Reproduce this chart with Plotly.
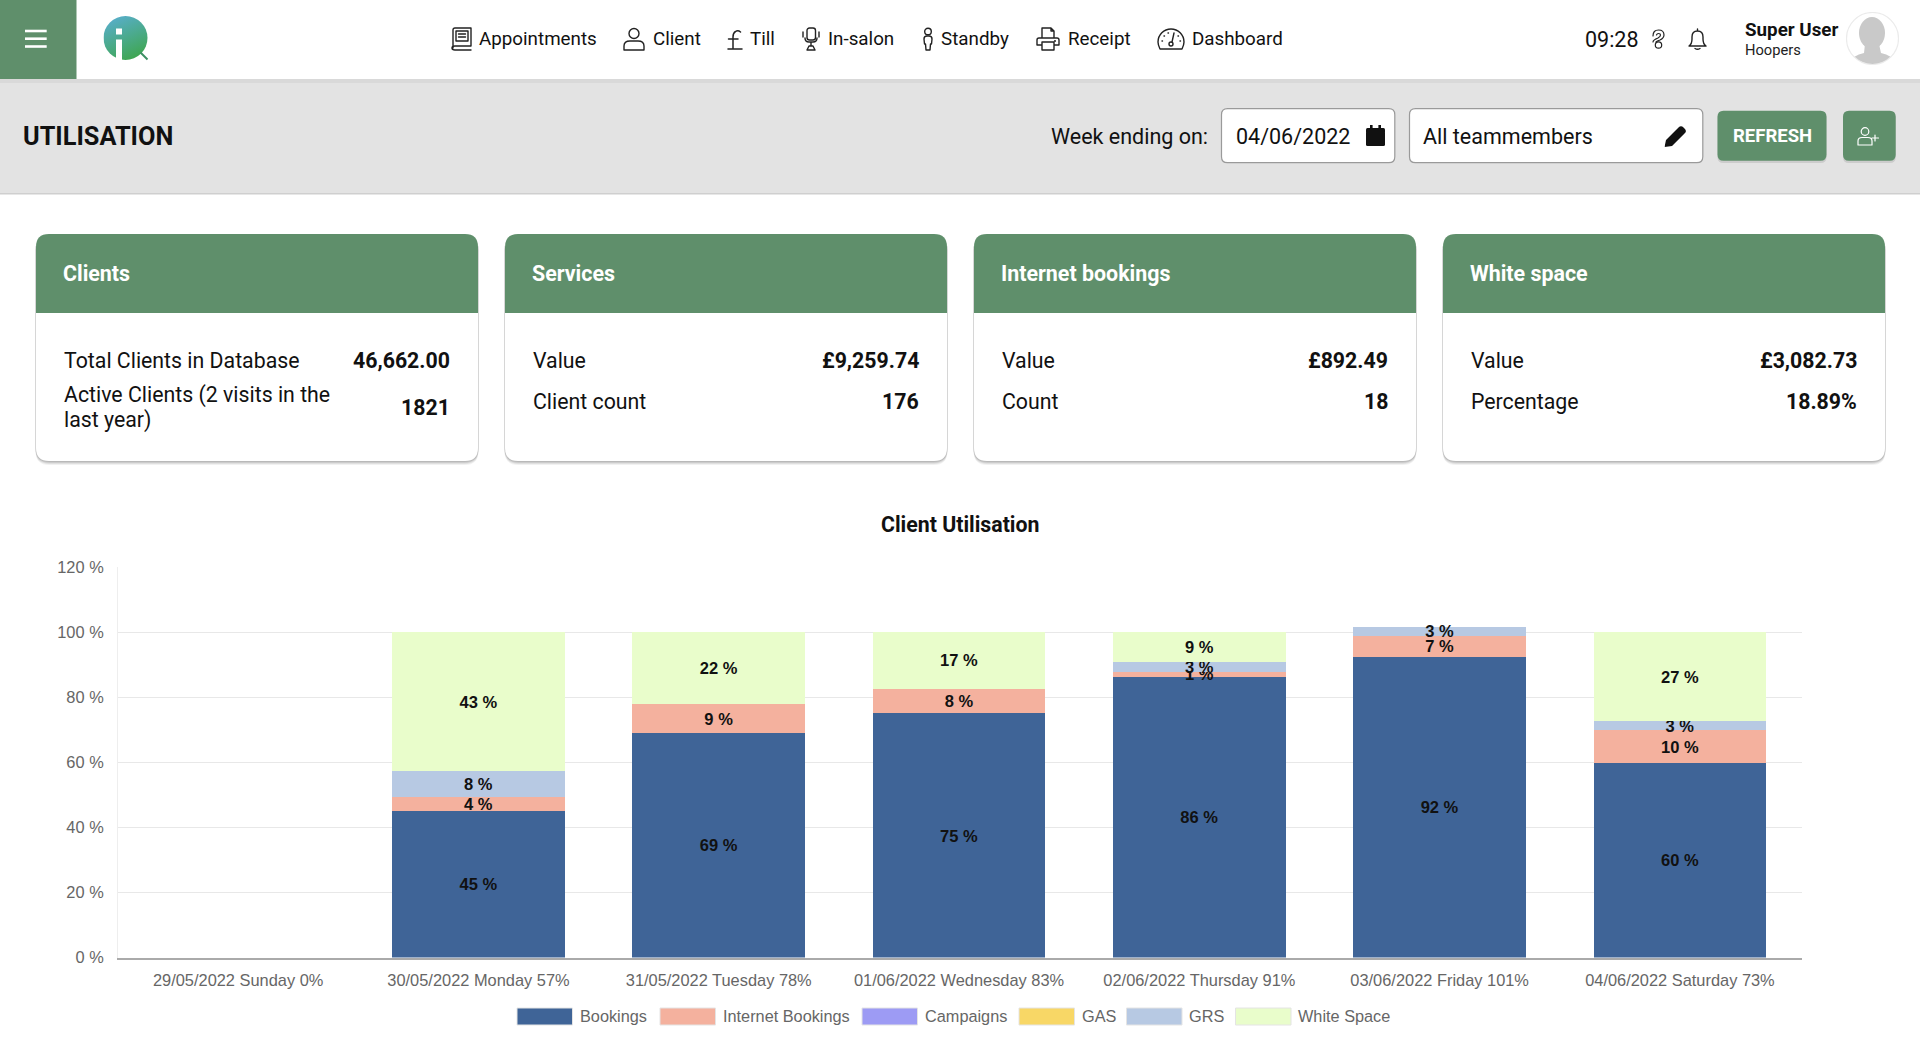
import base64
import plotly.graph_objects as go

W = 1920
H = 1038

# chart data
days = ['29/05/2022 Sunday 0%', '30/05/2022 Monday 57%', '31/05/2022 Tuesday 78%',
        '01/06/2022 Wednesday 83%', '02/06/2022 Thursday 91%', '03/06/2022 Friday 101%',
        '04/06/2022 Saturday 73%']
bookings = [None, 45.0, 69.0, 75.0, 86.3, 92.3, 59.8]
internet_bookings = [None, 4.2, 8.9, 7.6, 1.4, 6.6, 10.0]
campaigns = [None, None, None, None, None, None, None]
gas = [None, None, None, None, None, None, None]
grs = [None, 8.0, None, None, 3.2, 2.7, 2.9]
white_space = [None, 42.8, 22.1, 17.4, 9.1, None, 27.3]

series_names = ['Bookings', 'Internet Bookings', 'Campaigns', 'GAS', 'GRS', 'White Space']
series_values = [bookings, internet_bookings, campaigns, gas, grs, white_space]
series_colors = ['#3f6497', '#f4b19e', '#9d9bf4', '#f8d766', '#b7c9e3', '#e9fdcb']
y_ticks = [0, 20, 40, 60, 80, 100, 120]

# dashboard cards
card_titles = ['Clients', 'Services', 'Internet bookings', 'White space']
card_rows = [
    [('Total Clients in Database', '46,662.00', 360.5),
     ('Active Clients (2 visits in the', None, 395), ('last year)', '1821', 420)],
    [('Value', '£9,259.74', 360.5), ('Client count', '176', 401.5)],
    [('Value', '£892.49', 360.5), ('Count', '18', 401.5)],
    [('Value', '£3,082.73', 360.5), ('Percentage', '18.89%', 401.5)],
]
card_left = [36, 505, 974, 1443]
card_width = 442

nav_labels = ['Appointments', 'Client', 'Till', 'In-salon', 'Standby', 'Receipt', 'Dashboard']
nav_x = [477.5, 652, 749, 826.5, 940, 1066.5, 1191]

GREEN = '#5f8f6b'
GRAY = '#e3e3e3'
UI_FONT = 'Roboto'
CHART_FONT = 'Liberation Sans'

shapes = []
annotations = []
images = []


def px(x):
    return x / W


def py(y):
    return 1 - y / H


def rect(x0, y0, x1, y1, color, line=None, layer='below', opacity=1):
    shapes.append(dict(type='rect', xref='paper', yref='paper', layer=layer, opacity=opacity,
                       x0=px(x0), x1=px(x1), y0=py(y0), y1=py(y1), fillcolor=color,
                       line=dict(width=1 if line else 0, color=line or color)))


def round_rect(x0, y0, x1, y1, r, color, line=None, opacity=1, top_only=False):
    bottom_r = 0 if top_only else r
    pts = [
        ('M', x0 + r, y0), ('L', x1 - r, y0), ('Q', x1, y0, x1, y0 + r),
        ('L', x1, y1 - bottom_r), ('Q', x1, y1, x1 - bottom_r, y1),
        ('L', x0 + bottom_r, y1), ('Q', x0, y1, x0, y1 - bottom_r),
        ('L', x0, y0 + r), ('Q', x0, y0, x0 + r, y0),
    ]
    d = ''
    for p in pts:
        coords = []
        for i, v in enumerate(p[1:]):
            coords.append(f'{px(v) if i % 2 == 0 else py(v):.6f}')
        d += p[0] + ' ' + ' '.join(coords) + ' '
    shapes.append(dict(type='path', xref='paper', yref='paper', layer='below', opacity=opacity,
                       path=d + 'Z', fillcolor=color,
                       line=dict(width=1.2 if line else 0, color=line or color)))


def label(x, y, text, size=18.8, color='#111111', anchor='left', weight=400, family=UI_FONT):
    annotations.append(dict(xref='paper', yref='paper', x=px(x), y=py(y), text=text,
                            showarrow=False, xanchor=anchor, yanchor='middle', align='left',
                            borderpad=0,
                            font=dict(family=family, size=size, color=color, weight=weight)))


def icon(body, x, y, w, h):
    svg = (f'<svg xmlns="http://www.w3.org/2000/svg" width="{w * 4}" height="{h * 4}" '
           f'viewBox="0 0 {w} {h}">{body}</svg>')
    src = 'data:image/svg+xml;base64,' + base64.b64encode(svg.encode()).decode()
    images.append(dict(source=src, xref='paper', yref='paper', x=px(x), y=py(y),
                       sizex=w / W, sizey=h / H, xanchor='left', yanchor='top',
                       sizing='stretch', layer='above'))


def line_icon(inner, color='#222222', sw=1.4):
    return f'<g fill="none" stroke="{color}" stroke-width="{sw}" stroke-linecap="round" stroke-linejoin="round">{inner}</g>'


# page blocks
rect(0, 79, W, 193, GRAY)
rect(0, 193, W, 194.5, '#cfcfcf')
rect(0, 79, W, 83, '#d9d9d9')
rect(0, 0, 76.5, 79, GREEN)

# top bar
for yy in [31, 38.7, 46.5]:
    rect(25, yy - 1.3, 46.7, yy + 1.3, '#ffffff', layer='above')

icon('<defs><linearGradient id="g" x1="0.25" y1="0" x2="0.7" y2="1">'
     '<stop offset="0" stop-color="#58aecb"/><stop offset="1" stop-color="#3ea64e"/></linearGradient></defs>'
     '<circle cx="22" cy="22.5" r="22" fill="url(#g)"/>'
     '<path d="M37 37 L44 44" stroke="#3c8f63" stroke-width="2"/>'
     '<rect x="12.5" y="13" width="6" height="6" fill="#fff"/>'
     '<rect x="12.5" y="24" width="6" height="22" fill="#fff"/>', 103.5, 15.5, 45, 46)

for text, x in zip(nav_labels, nav_x):
    label(x, 39.5, text)

icon(line_icon('<path d="M3 21 V3 Q3 1 5 1 H21 V19 H5 Q2 19 2 21 Q2 23 5 23 H21"/>'
               '<rect x="6" y="4" width="12" height="10"/><path d="M8.5 7 H15.5 M8.5 10 H15.5"/>'), 450, 27, 22, 24)
icon(line_icon('<circle cx="11" cy="6.5" r="5"/><path d="M1 23 V19 Q1 14 7 14 H15 Q21 14 21 19 V23 Z"/>'), 623, 27, 22, 24)
icon(line_icon('<path d="M13.5 3 Q11 0.8 8.5 2.5 Q6 4 6 8 V19 M1.5 10 H11 M1 20 H15"/>', sw=1.5), 727, 29, 16, 21)
icon(line_icon('<rect x="5" y="1" width="8.5" height="12" rx="2.5"/><path d="M1 5 V10 M17 5 V10 M3 11 Q3 15 7 15 H11 Q15 15 15 11 M9 15 V19 M5 23 L7 19 H11 L13 23 Z"/>'), 802, 27, 18, 24)
icon(line_icon('<circle cx="6" cy="4.5" r="3.3"/><path d="M2 12 Q2 9 5 9 H7 Q10 9 10 12 L9.5 17 H8.5 L8 23 H4 L3.5 17 H2.5 Z"/>'), 922, 27, 12, 24)
icon(line_icon('<path d="M6 11 V1 H15 L18 4 V11 M15 1 V4 H18 M1 18 V13 Q1 11 3 11 H21 Q23 11 23 13 V18 H18 M6 18 H1 M6 15 H18 V23 H6 Z"/><circle cx="19" cy="14" r="0.4"/>'), 1036, 27, 24, 24)
icon(line_icon('<path d="M3 21 Q1 17 1 14 A13 13 0 0 1 27 14 Q27 17 25 21 Z"/><circle cx="14" cy="16" r="2"/>'
               '<path d="M15 14 L17 5 M5 13 H5.5 M7 8 H7.5 M11 5 H11.5 M21 8 H21.5 M23 13 H23.5"/>'), 1157, 28, 28, 22)
label(1583.5, 39, '09:28', size=21.5)
icon(line_icon('<path d="M2 7 Q2 1 7.5 1 Q13 1 13 6 Q13 9 9 11 Q6 12 5 13 M5.5 6 Q6 4.5 7.5 4.5 Q9.5 4.5 9.5 6 Q9.5 7.5 7 9 Q2 11 2 13"/><circle cx="7.5" cy="16" r="3.2"/>', sw=1.2), 1651, 29, 15, 20)
icon(line_icon('<path d="M9.5 1 V3 M1 18 Q4 16 4 11 V9 Q4 3 9.5 3 Q15 3 15 9 V11 Q15 16 18 18 Z M7 20.5 Q9.5 22 12 20.5"/>'), 1688, 28, 19, 22)
label(1743.5, 30.5, 'Super User', size=18.8, weight=700)
label(1743.5, 49.5, 'Hoopers', size=14.7, color='#222222')
icon('<clipPath id="c"><circle cx="26.5" cy="26.5" r="25.5"/></clipPath>'
     '<circle cx="26.5" cy="26.5" r="26" fill="#ffffff" stroke="#ebebeb" stroke-width="1.2"/>'
     '<g clip-path="url(#c)" fill="#c9c9c9"><ellipse cx="26" cy="21" rx="13" ry="16"/>'
     '<path d="M19 32 H33 L35 41 Q47 43 50 53 H3 Q6 43 18 41 Z"/></g>', 1846, 12, 53, 53)

# sub header
label(22, 137, 'UTILISATION', size=25.3, weight=700)
label(1208.5, 136.5, 'Week ending on:', size=21.5, anchor='right')
round_rect(1221.5, 108.7, 1394.8, 162.7, 6, '#ffffff', line='#9a9a9a')
round_rect(1409.5, 108.7, 1702.8, 162.7, 6, '#ffffff', line='#9a9a9a')
label(1235, 136.5, '04/06/2022', size=21.5)
label(1422, 136.5, 'All teammembers', size=21.5)
icon('<rect x="0" y="6" width="19" height="15" rx="1.5" fill="#111"/><rect x="0" y="3" width="19" height="5" rx="1.5" fill="#111"/>'
     '<rect x="4" y="0" width="2.6" height="5" fill="#111"/><rect x="12.4" y="0" width="2.6" height="5" fill="#111"/>', 1366, 125, 19, 21)
icon('<path d="M0 22 L1.5 15 L14 2.5 Q16.5 0 19 2.5 L20.5 4 Q22.5 6.5 20 8.5 L7.5 21 Z" fill="#111"/>', 1664.5, 125, 23, 22)
round_rect(1717.5, 112, 1826.5, 163, 6, '#c6c6c6', opacity=0.8)
round_rect(1843, 112, 1895.7, 163, 6, '#c6c6c6', opacity=0.8)
round_rect(1717.5, 110.7, 1826.5, 160.7, 6, GREEN)
round_rect(1843, 110.7, 1895.7, 160.7, 6, GREEN)
label(1772, 136, 'REFRESH', size=18.5, color='#ffffff', anchor='center', weight=700)
icon(line_icon('<circle cx="8" cy="4.5" r="3.8"/><path d="M1 18 V14 Q1 10.5 5 10.5 H11 Q15 10.5 15 14 V18 Z M18 8 V14 M15 11 H21.5"/>', color='#ffffff', sw=1.2), 1857, 127, 23, 19)

# cards
for left, title, rows in zip(card_left, card_titles, card_rows):
    right = left + card_width
    for off, op in [(4, 0.10), (3, 0.14), (2, 0.18), (1, 0.22)]:
        round_rect(left - 0.5, 236, right + 0.5, 461 + off, 14, '#777777', opacity=op)
    round_rect(left, 234, right, 461, 13, '#ffffff')
    round_rect(left, 234, right, 313, 13, GREEN, top_only=True)
    label(left + 26, 273.5, title, size=21.4, color='#ffffff', weight=700)
    for name, value, y in rows:
        label(left + 27, y, name, size=21.3)
        if value == '1821':
            # value is centred on both lines of the wrapped label
            label(right - 27, 407.5, value, size=21.3, anchor='right', weight=700)
        elif value:
            label(right - 27, y, value, size=21.3, anchor='right', weight=700)

# chart
label(960, 524.5, 'Client Utilisation', size=21.3, anchor='center', weight=700)

fig = go.Figure()
for name, values, color in zip(series_names, series_values, series_colors):
    fig.add_trace(go.Bar(
        x=days,
        y=values,
        name=name,
        marker=dict(color=color, line=dict(width=0)),
        texttemplate='%{y:.0f} %',
        textposition='inside',
        insidetextanchor='middle',
        textangle=0,
        constraintext='none',
        cliponaxis=False,
        textfont=dict(family=CHART_FONT, size=16.5, color='#111111', weight=700),
        showlegend=False,
    ))

# legend drawn by hand so that the swatches keep the wide shape of the original
legend_swatch_x = [517, 660, 862, 1019, 1126.5, 1235.5]
for name, color, x in zip(series_names, series_colors, legend_swatch_x):
    rect(x, 1008, x + 55.5, 1025, color, line='#e4e4e4')
    label(x + 61.5, 1015.5, name, size=16.3, color='#666666', family=CHART_FONT)

fig.update_layout(
    width=W,
    height=H,
    margin=dict(l=0, r=0, t=0, b=0, autoexpand=False),
    paper_bgcolor='#ffffff',
    plot_bgcolor='rgba(0,0,0,0)',
    barmode='stack',
    bargap=0.281,
    shapes=shapes,
    annotations=annotations,
    images=images,
    showlegend=False,
    xaxis=dict(
        domain=[px(118), px(1802)],
        automargin=False,
        type='category',
        categoryorder='array',
        categoryarray=days,
        range=[-0.5, 6.508],
        showgrid=False,
        showline=True,
        linecolor='#aaaaaa',
        linewidth=1.5,
        ticks='outside',
        ticklen=7,
        tickcolor='rgba(0,0,0,0)',
        tickangle=0,
        tickfont=dict(family=CHART_FONT, size=16.4, color='#666666'),
    ),
    yaxis=dict(
        domain=[py(957.6), py(567)],
        automargin=False,
        range=[0, 120],
        tickmode='array',
        tickvals=y_ticks,
        ticktext=[f'{v} %' for v in y_ticks],
        showgrid=True,
        gridcolor='#e8e8e8',
        gridwidth=1.2,
        zeroline=False,
        showline=True,
        linecolor='#eeeeee',
        linewidth=1,
        ticks='outside',
        ticklen=10,
        tickcolor='rgba(0,0,0,0)',
        tickfont=dict(family=CHART_FONT, size=16.4, color='#666666'),
    ),
)

fig.write_html("out.html", config={'displayModeBar': False},
               post_script="document.body.style.margin='0';document.body.style.overflow='hidden';")
